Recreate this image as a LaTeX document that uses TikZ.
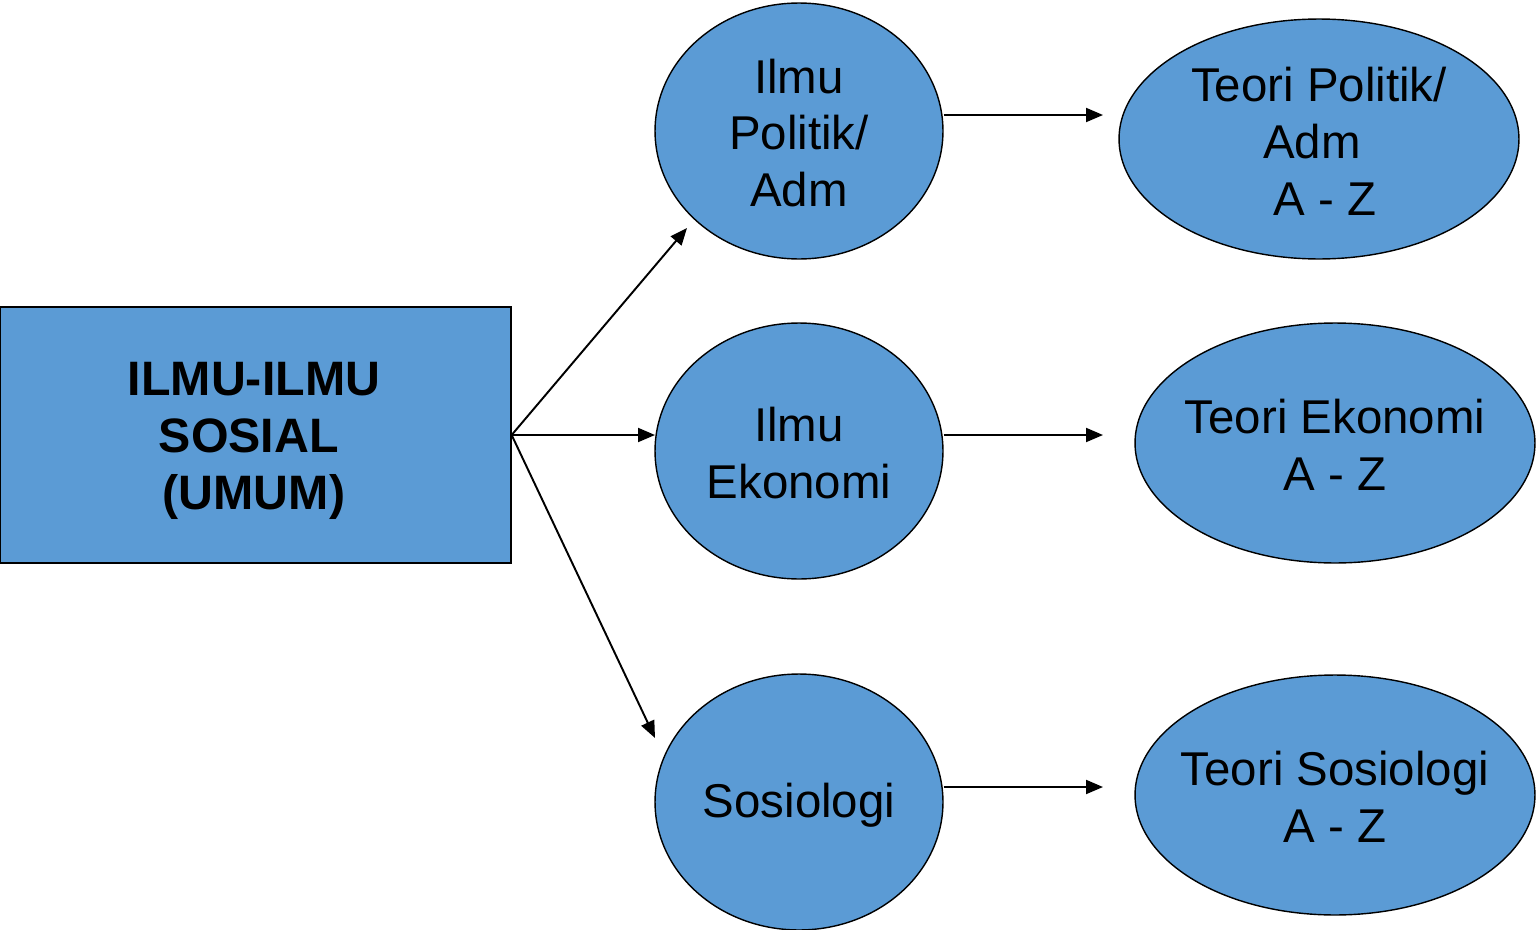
\documentclass[tikz,border=0pt]{standalone}
\usepackage{fontspec}
\setmainfont{Liberation Sans}
\usetikzlibrary{shapes.geometric,arrows.meta}
\definecolor{boxblue}{HTML}{5B9BD5}
\tikzset{
  bluebox/.style={draw=black, line width=0.8pt, fill=boxblue, rectangle, minimum width=10.22cm, minimum height=5.12cm, inner sep=0pt},
  midell/.style={draw=black, line width=0.8pt, fill=boxblue, ellipse, minimum width=5.76cm, minimum height=5.12cm, inner sep=0pt},
  rightell/.style={draw=black, line width=0.8pt, fill=boxblue, ellipse, minimum width=8cm, minimum height=4.8cm, inner sep=0pt},
  lbl/.style={align=center, font=\fontsize{27}{32.4}\selectfont, inner sep=0pt},
  boldlbl/.style={lbl, font=\fontsize{27.5}{32.4}\selectfont\bfseries},
  arr/.style={line width=1.1pt, -{Triangle[length=0.34cm,width=0.28cm]}}
}
\begin{document}
\begin{tikzpicture}[x=0.02cm, y=-0.02cm]
\useasboundingbox (0,0) rectangle (1536,930);
% main box
\node[bluebox] (main) at (255.5,435) {};
\node[boldlbl] (mainl) at (254,441) {ILMU-ILMU\\\hspace*{-6pt}SOSIAL\\(UMUM)};
% middle ellipses
\node[midell] (e1) at (799,131) {};
\node[lbl] (e1l) at (799,133) {Ilmu\\Politik/\\Adm};
\node[midell] (e2) at (799,451) {};
\node[lbl] (e2l) at (799,453) {Ilmu\\Ekonomi};
\node[midell] (e3) at (799,802) {};
\node[lbl] (e3l) at (799,805) {Sosiologi};
% right ellipses
\node[rightell] (r1) at (1319,139) {};
\node[lbl] (r1l) at (1319,141) {Teori Politik/\\\hspace*{-8pt}Adm\\\hspace*{7pt}A - Z};
\node[rightell] (r2) at (1335,443) {};
\node[lbl] (r2l) at (1335,445) {Teori Ekonomi\\A - Z};
\node[rightell] (r3) at (1335,795) {};
\node[lbl] (r3l) at (1335,797) {Teori Sosiologi\\A - Z};
% arrow end points
\coordinate (d1) at (687,228);
\coordinate (d2) at (655,435);
\coordinate (d3) at (655,738);
\coordinate (h1) at (1103,115);
\coordinate (h2) at (1103,435);
\coordinate (h3) at (1103,787);
% connectors
\draw[arr] (main.east) -- (d1);
\draw[arr] (main.east) -- (d2);
\draw[arr] (main.east) -- (d3);
\draw[arr] (e1.east |- h1) -- (h1);
\draw[arr] (e2.east |- h2) -- (h2);
\draw[arr] (e3.east |- h3) -- (h3);
\end{tikzpicture}
\end{document}
